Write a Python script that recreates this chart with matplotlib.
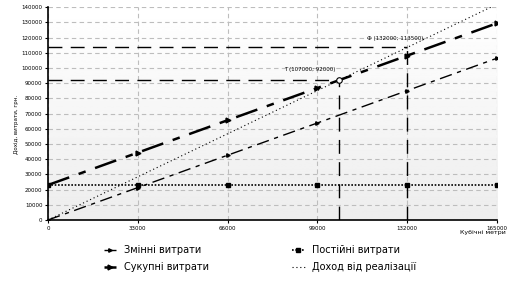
import numpy as np
import matplotlib.pyplot as plt

# обсяг, куб. м
volume = [0, 33000, 66000, 99000, 132000, 165000]
variable_costs = [0, 21300, 42600, 63800, 85100, 106400]
fixed_costs = [23000, 23000, 23000, 23000, 23000, 23000]
total_costs = [23000, 44300, 65600, 86800, 108100, 129400]
revenue = [0, 28400, 56700, 85100, 113500, 141900]

# точка беззбитковості та фактична точка
point_t = (107000, 92000)
point_f = (132000, 113500)

plt.rcParams['font.family'] = ['DejaVu Sans']

fig = plt.figure(figsize=(5.14, 2.84), dpi=100)
ax = fig.add_axes([0.0934, 0.2254, 0.8736, 0.7496])

# фон з легким градієнтом
grad = np.linspace(1.0, 0.93, 256).reshape(-1, 1)
ax.imshow(grad, cmap='gray', vmin=0, vmax=1, aspect='auto',
          extent=[0, 165000, 0, 140000], origin='upper', zorder=0)

ax.set_xlim(0, 165000)
ax.set_ylim(0, 140000)
ax.set_xticks(volume)
ax.set_yticks(np.arange(0, 140001, 10000))
ax.tick_params(labelsize=4, length=2, width=0.8, pad=2)
ax.grid(True, color='#bdbdbd', linestyle=(0, (4, 3)), linewidth=0.8, zorder=1)
for s in ['top', 'right']:
    ax.spines[s].set_visible(False)
ax.spines['left'].set_linewidth(1.2)
ax.spines['bottom'].set_linewidth(1.2)

ax.plot(volume, variable_costs, color='black', lw=1.0,
        linestyle=(0, (9, 4, 3, 4)), marker='>', markersize=2.5,
        label='Змінні витрати', zorder=3)
ax.plot(volume, total_costs, color='black', lw=1.8,
        linestyle=(0, (9, 4, 3, 4)), marker='>', markersize=3.5,
        label='Сукупні витрати', zorder=3)
ax.plot(volume, fixed_costs, color='black', lw=1.2,
        linestyle=(0, (1, 1)), marker='s', markersize=3,
        label='Постійні витрати', zorder=3)
ax.plot(volume, revenue, color='black', lw=0.8,
        linestyle=(0, (1, 2.5)), label='Доход від реалізації', zorder=3)

# допоміжні лінії
for px, py in [point_t, point_f]:
    ax.plot([0, px], [py, py], color='black', lw=1.0,
            linestyle=(0, (10, 6)), zorder=2)
    ax.plot([px, px], [0, py], color='black', lw=1.0,
            linestyle=(0, (10, 6)), zorder=2)

ax.plot(*point_t, marker='o', markersize=4, markerfacecolor='white',
        markeredgecolor='black', markeredgewidth=0.8, zorder=4)
ax.text(point_t[0] - 1500, point_t[1] + 5500,
        'Т (%d; %d)' % point_t, fontsize=4, ha='right', va='bottom')
ax.text(point_f[0] + 6000, point_f[1] + 4500,
        'Ф (%d; %d)' % point_f, fontsize=4, ha='right', va='bottom')

ax.set_ylabel('Дохід, витрати, грн.', fontsize=4)
ax.yaxis.set_label_coords(-0.065, 0.45)
fig.text(0.94, 0.175, 'Кубічні метри', fontsize=4.5, ha='center')

handles, labels = ax.get_legend_handles_labels()
fig.legend(handles, labels,
           ncol=2, loc='lower left', bbox_to_anchor=(0.185, 0.01),
           frameon=False, fontsize=7, handlelength=1.3,
           columnspacing=8.5, labelspacing=0.75)

fig.savefig('out.png', dpi=100)
